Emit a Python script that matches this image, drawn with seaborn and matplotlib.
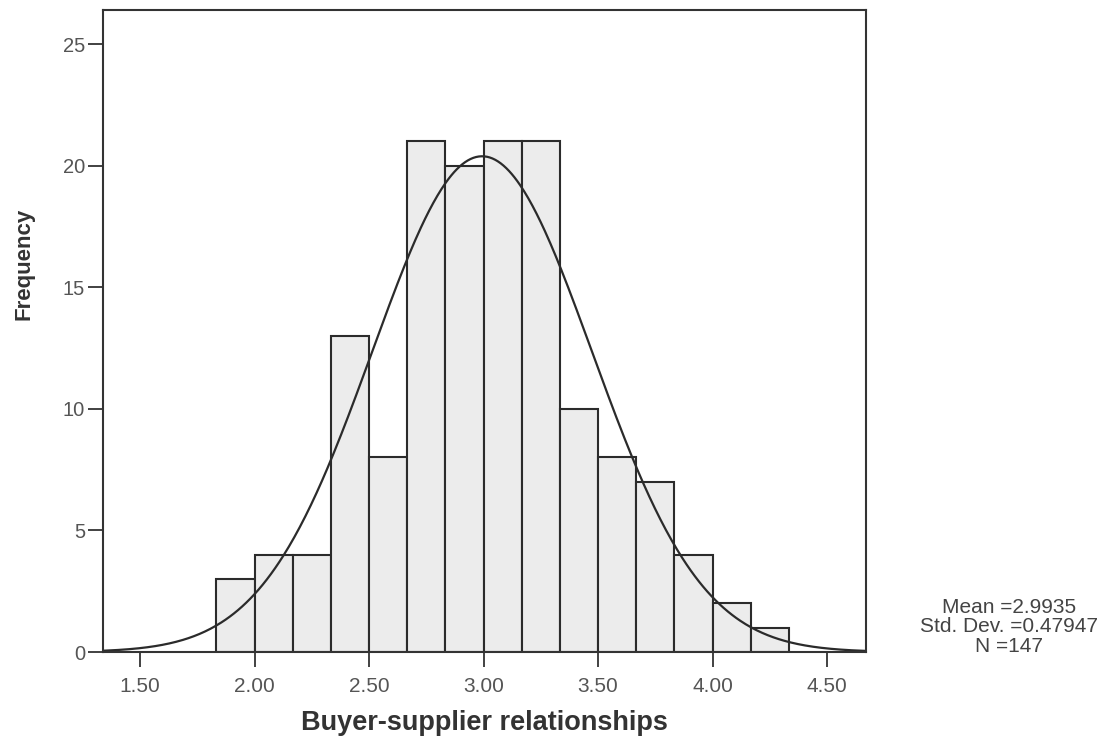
import numpy as np
import pandas as pd
import matplotlib
matplotlib.use("Agg")
import matplotlib.pyplot as plt
import seaborn as sns

# ---- data ----
bin_start = 11 / 6          # first bin edge (~1.833)
bin_width = 1 / 6
counts = [3, 4, 4, 13, 8, 21, 20, 21, 21, 10, 8, 7, 4, 2, 1]
mean_val = 2.9935
sd_val = 0.47947
n_val = 147
x_ticks = [1.50, 2.00, 2.50, 3.00, 3.50, 4.00, 4.50]
y_ticks = [0, 5, 10, 15, 20, 25]
x_label = "Buyer-supplier relationships"
y_label = "Frequency"

sns.set_theme(style="white")
plt.rcParams["font.family"] = ["Liberation Sans", "DejaVu Sans"]

edges = bin_start + bin_width * np.arange(len(counts) + 1)
centers = (edges[:-1] + edges[1:]) / 2
df = pd.DataFrame({"x": centers, "w": counts})

fig = plt.figure(figsize=(11.11, 7.44), dpi=100)
ax = fig.add_axes([103 / 1111, 1 - 652 / 744, 763 / 1111, 642 / 744])

sns.histplot(data=df, x="x", weights="w", binwidth=bin_width,
             binrange=(float(edges[0]), float(edges[-1])), ax=ax,
             color="#ececec", edgecolor="#2b2b2b", linewidth=1.5, alpha=1)

xs = np.linspace(1.2, 4.8, 600)
ys = n_val * bin_width * np.exp(-0.5 * ((xs - mean_val) / sd_val) ** 2) / (sd_val * np.sqrt(2 * np.pi))
sns.lineplot(x=xs, y=ys, ax=ax, color="#2b2b2b", linewidth=1.6)

ax.set_xlim(1.338, 4.67)
ax.set_ylim(0, 26.4)
ax.set_xticks(x_ticks)
ax.set_xticklabels([f"{v:.2f}" for v in x_ticks])
ax.set_yticks(y_ticks)
ax.tick_params(axis="both", direction="out", length=11, width=1.3, color="#333333",
               labelcolor="#555555", bottom=True, left=True)
ax.tick_params(axis="x", pad=7, labelsize=15)
ax.tick_params(axis="y", pad=2, labelsize=14.5)
for s in ax.spines.values():
    s.set_color("#333333")
    s.set_linewidth(1.5)

ax.set_xlabel(x_label, fontsize=19.5, fontweight="bold", color="#333333", labelpad=10)
ax.set_ylabel("")
fig.text(24.5 / 1111, 1 - 264 / 744, y_label, rotation=90, ha="center", va="center",
         fontsize=16, fontweight="bold", color="#333333")

fig.text(1009 / 1111, 1 - 627 / 744,
         f"Mean ={mean_val}\nStd. Dev. ={sd_val}\nN ={n_val}",
         ha="center", va="center", fontsize=15, color="#444444", linespacing=1.05)

fig.savefig("out.png", dpi=100)
